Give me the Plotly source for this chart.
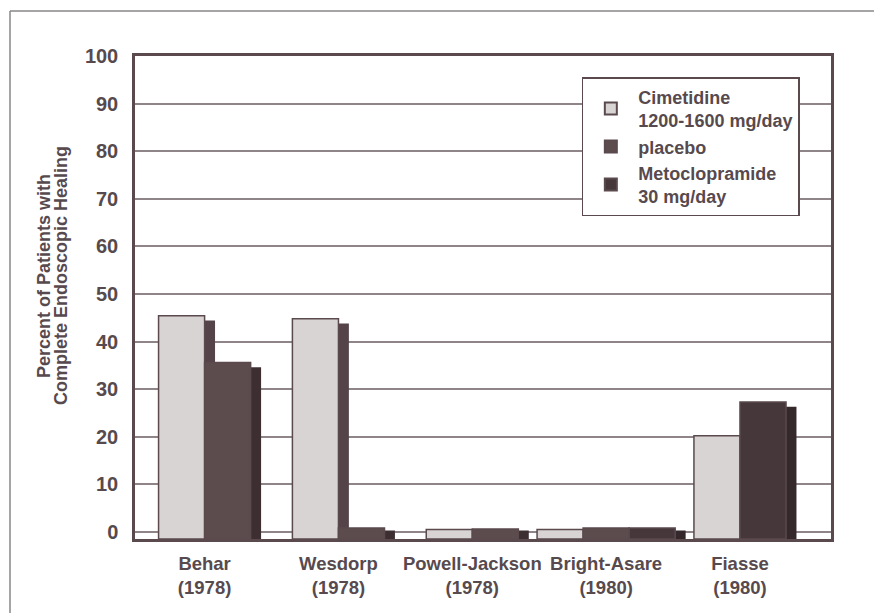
import plotly.graph_objects as go

# ---- data ----
studies = ["Behar<br>(1978)", "Wesdorp<br>(1978)", "Powell-Jackson<br>(1978)",
           "Bright-Asare<br>(1980)", "Fiasse<br>(1980)"]
series_names = ["Cimetidine<br>1200-1600 mg/day", "placebo", "Metoclopramide<br>30 mg/day"]
cimetidine = [45.4, 44.8, 0.5, 0.5, 20.2]
placebo = [35.6, 0.8, 0.6, 0.8, None]
metoclopramide = [None, None, None, 0.8, 27.3]
y_ticks = [0, 10, 20, 30, 40, 50, 60, 70, 80, 90, 100]
y_title_lines = ["Percent of Patients with", "Complete Endoscopic Healing"]

# ---- styles ----
TEXT = "#574a4e"
FRAME = "#5a4a4e"
GRID = "#8f8588"
FONT = "Liberation Sans"
fills = ["#d8d4d4", "#5c4c4e", "#45373a"]
shadow_cols = ["#54444a", "#3c2e31", "#35282b"]
Y_MIN = -1.5
BAR_W = 0.344
SH_DX = 0.078
SH_DY = 1.0

all_series = [cimetidine, placebo, metoclopramide]
ncat = len(studies)

# compute per-category offsets so that present bars sit side by side
offsets = [[None] * ncat for _ in all_series]
for c in range(ncat):
    present = [s for s in range(len(all_series)) if all_series[s][c] is not None]
    n = len(present)
    for k, s in enumerate(present):
        offsets[s][c] = -n * BAR_W / 2 + k * BAR_W

fig = go.Figure()

# shadows first
for s, vals in enumerate(all_series):
    xs, ys, offs = [], [], []
    for c in range(ncat):
        if vals[c] is None:
            continue
        xs.append(studies[c])
        ys.append(max(vals[c] - SH_DY, 0.3) - Y_MIN)
        offs.append(offsets[s][c] + SH_DX)
    fig.add_trace(go.Bar(x=xs, y=ys, base=Y_MIN, offset=offs, width=BAR_W,
                         marker=dict(color=shadow_cols[s], line=dict(width=0)),
                         showlegend=False, hoverinfo="skip"))

# main bars
for s, vals in enumerate(all_series):
    xs, ys, offs = [], [], []
    for c in range(ncat):
        if vals[c] is None:
            continue
        xs.append(studies[c])
        ys.append(vals[c] - Y_MIN)
        offs.append(offsets[s][c])
    fig.add_trace(go.Bar(x=xs, y=ys, base=Y_MIN, offset=offs, width=BAR_W,
                         name=series_names[s],
                         marker=dict(color=fills[s], line=dict(width=1.5, color=FRAME)),
                         hoverinfo="skip"))

fig.update_layout(
    width=882, height=613,
    margin=dict(l=127, r=59, t=48, b=82),
    paper_bgcolor="white", plot_bgcolor="white",
    barmode="overlay",
    font=dict(family=FONT, color=TEXT, size=17, weight="bold"),
    showlegend=True,
    legend=dict(x=0.642, y=0.9565, xanchor="left", yanchor="top",
                bgcolor="white", bordercolor=FRAME, borderwidth=1.5,
                font=dict(size=18, family=FONT, color=TEXT, weight="bold"),
                itemsizing="constant", itemwidth=45, tracegroupgap=15),
)
fig.update_xaxes(type="category", categoryorder="array", categoryarray=studies,
                 range=[-0.52, 4.68], showgrid=False, showline=True, mirror=True,
                 linecolor=FRAME, linewidth=2.5, ticks="", ticklabelstandoff=6,
                 tickfont=dict(size=18.5, family=FONT, color=TEXT, weight="bold"))
fig.update_yaxes(range=[Y_MIN, 100], tickvals=y_ticks, showgrid=True, gridcolor=GRID,
                 gridwidth=1.5, zeroline=False, showline=True, mirror=True,
                 linecolor=FRAME, linewidth=2.5, ticks="", ticklabelstandoff=10,
                 tickfont=dict(size=20, family=FONT, color=TEXT, weight="bold"))

# y-axis title as two annotation lines
for i, line in enumerate(y_title_lines):
    fig.add_annotation(text=line, xref="paper", yref="paper", x=0, y=0.5445,
                       xshift=-91 + 17 * i, xanchor="center", yanchor="middle",
                       textangle=-90, showarrow=False,
                       font=dict(size=18, family=FONT, color=TEXT, weight="bold"))

# outer frame (top and left lines of the scanned page)
fig.add_shape(type="line", xref="paper", yref="paper", x0=-0.1796, x1=1.25,
              y0=1.0932, y1=1.0932, line=dict(color="#8a8688", width=1.5))
fig.add_shape(type="line", xref="paper", yref="paper", x0=-0.1796, x1=-0.1796,
              y0=1.0932, y1=-0.25, line=dict(color="#8a8688", width=1.5))

fig.write_html("out.html")
